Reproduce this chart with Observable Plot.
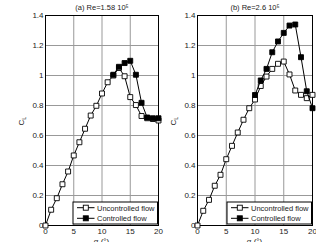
<!DOCTYPE html>
<html>
<head>
<meta charset="utf-8">
<script src="https://cdn.jsdelivr.net/npm/d3@7"></script>
<script src="https://cdn.jsdelivr.net/npm/@observablehq/plot@0.6"></script>
<style>
  body { margin: 0; background: #fff; }
  #wrap { position: relative; width: 316px; height: 242px; overflow: hidden; font-family: "Liberation Sans", Arial, sans-serif; }
  #wrap svg { position: absolute; top: 0; overflow: visible; }
</style>
</head>
<body>
<div id="wrap"></div>
<script>
// Angle of attack (deg) and lift coefficient, two Reynolds numbers
const alphaAll = [0, 1, 2, 3, 4, 5, 6, 7, 8, 9, 10, 11, 12, 13, 14, 15, 16, 17, 18, 19, 20];

// (a) Re = 1.58e5
const uncontrolledA = [0, 0.105, 0.182, 0.275, 0.36, 0.467, 0.555, 0.645, 0.733, 0.798, 0.88, 0.955, 1.0, 1.05, 0.995, 0.856, 0.803, 0.73, 0.715, 0.71, 0.70];
const alphaCtrlA = [12, 13, 14, 15, 16, 17, 18, 19, 20];
const controlledA = [1.005, 1.058, 1.083, 1.098, 1.005, 0.818, 0.72, 0.715, 0.715];

// (b) Re = 2.6e5
const uncontrolledB = [0, 0.098, 0.171, 0.265, 0.338, 0.442, 0.531, 0.62, 0.705, 0.782, 0.84, 0.93, 0.993, 1.044, 1.078, 1.093, 1.007, 0.9, 0.871, 0.849, 0.871];
const alphaCtrlB = [10, 11, 12, 13, 14, 15, 16, 17, 18, 19, 20];
const controlledB = [0.87, 0.967, 1.044, 1.155, 1.227, 1.284, 1.333, 1.34, 1.122, 0.895, 0.782];

const xTicks = [0, 5, 10, 15, 20];
const yTicks = [0, 0.2, 0.4, 0.6, 0.8, 1, 1.2, 1.4];
const xGrid = [5, 10, 15];
const yGrid = [0.2, 0.4, 0.6, 0.8, 1, 1.2];
const legendLabels = ["Uncontrolled flow", "Controlled flow"];
const titles = ["(a) Re=1.58 10\u2075", "(b) Re=2.6 10\u2075"];

const FONT = '"Liberation Sans", Arial, sans-serif';
const wrap = document.getElementById("wrap");

function panel({ title, unc, alphaC, ctrl, left, marginLeft, marginRight }) {
  const width = 160, height = 242, marginTop = 15, marginBottom = 17;
  const U = alphaAll.map((a, i) => ({ a, cl: unc[i] }));
  const C = alphaC.map((a, i) => ({ a, cl: ctrl[i] }));
  const sq = { symbol: "square", r: 2.8, stroke: "black", strokeWidth: 0.9 };

  const chart = Plot.plot({
    width, height, marginLeft, marginRight, marginTop, marginBottom,
    style: { fontFamily: FONT, fontSize: "8px", color: "#222", background: "transparent" },
    x: { domain: [0, 20] },
    y: { domain: [0, 1.4] },
    marks: [
      Plot.gridX(xGrid, { stroke: "#999", strokeOpacity: 1 }),
      Plot.gridY(yGrid, { stroke: "#999", strokeOpacity: 1 }),
      Plot.axisX({ ticks: xTicks, tickSize: 0, tickPadding: 3, label: null, tickFormat: d => String(d) }),
      Plot.axisY({ ticks: yTicks, tickSize: 0, tickPadding: 2, label: null, tickFormat: d => String(+d.toFixed(1)) }),
      Plot.frame({ stroke: "black" }),
      Plot.line(U, { x: "a", y: "cl", stroke: "black", strokeWidth: 1 }),
      Plot.dot(U, { x: "a", y: "cl", ...sq, fill: "white" }),
      Plot.line(C, { x: "a", y: "cl", stroke: "black", strokeWidth: 1 }),
      Plot.dot(C, { x: "a", y: "cl", ...sq, fill: "black" }),
      Plot.text([title], { frameAnchor: "top", lineAnchor: "bottom", dy: -6, fontSize: 7.5, text: d => d, fill: "#222" })
    ]
  });
  chart.style.left = left + "px";
  wrap.appendChild(chart);

  const svg = d3.select(chart);
  const fl = marginLeft, fr = width - marginRight;

  // y-axis label: C with subscript L
  const yl = svg.append("text")
    .attr("transform", `translate(${fl - 21},${121}) rotate(-90)`)
    .attr("text-anchor", "middle")
    .attr("font-size", 8).attr("fill", "#222");
  yl.append("tspan").text("C");
  yl.append("tspan").attr("font-size", 5.5).attr("dy", 2).text("L");

  // x-axis label
  svg.append("text")
    .attr("x", (fl + fr) / 2).attr("y", 243.5)
    .attr("text-anchor", "middle")
    .attr("font-size", 8).attr("fill", "#222")
    .text("\u03b1 (\u00b0)");

  // legend
  const bx = fr - 85, by = 202;
  const g = svg.append("g");
  g.append("rect").attr("x", bx).attr("y", by).attr("width", 84.5).attr("height", 22)
    .attr("fill", "white").attr("stroke", "black");
  legendLabels.forEach((lab, i) => {
    const yy = by + 5.7 + i * 10.6;
    g.append("line").attr("x1", bx + 4).attr("x2", bx + 21.5).attr("y1", yy).attr("y2", yy)
      .attr("stroke", "black");
    g.append("rect").attr("x", bx + 10.3).attr("y", yy - 2.5).attr("width", 5).attr("height", 5)
      .attr("fill", i === 0 ? "white" : "black").attr("stroke", "black").attr("stroke-width", 0.9);
    g.append("text").attr("x", bx + 24).attr("y", yy + 2.8)
      .attr("text-anchor", "start")
      .attr("font-size", 7.5).attr("fill", "#222").text(lab);
  });
}

panel({ title: titles[0], unc: uncontrolledA, alphaC: alphaCtrlA, ctrl: controlledA, left: 0, marginLeft: 45, marginRight: 2 });
panel({ title: titles[1], unc: uncontrolledB, alphaC: alphaCtrlB, ctrl: controlledB, left: 156, marginLeft: 41, marginRight: 4 });
</script>
</body>
</html>
